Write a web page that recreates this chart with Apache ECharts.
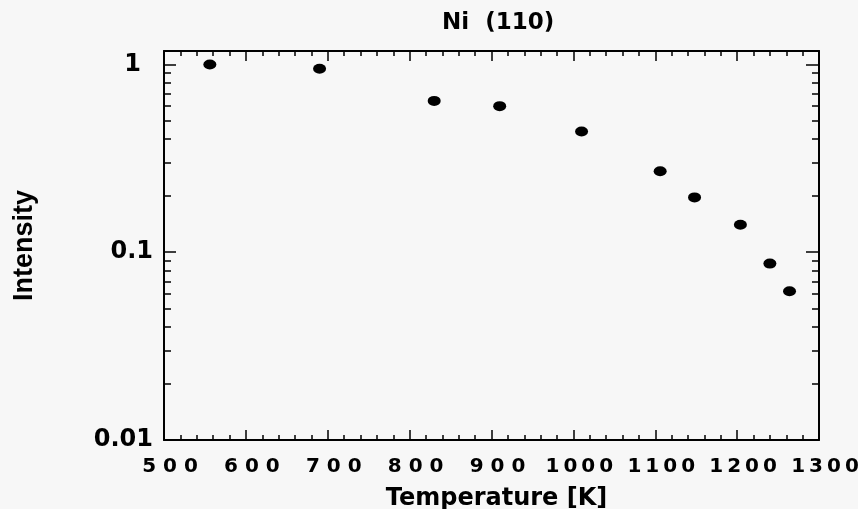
<!DOCTYPE html>
<html>
<head>
<meta charset="utf-8">
<script src="https://cdn.jsdelivr.net/npm/echarts@6/dist/echarts.min.js"></script>
<style>
html,body{margin:0;padding:0;background:#f7f7f7;}
#c{width:858px;height:509px;}
</style>
</head>
<body>
<div id="c"></div>
<script>
// ---- data ----
const temperatures = [556, 690, 830, 910, 1010, 1106, 1148, 1204, 1240, 1264];
const intensities  = [1.0, 0.95, 0.64, 0.60, 0.44, 0.27, 0.196, 0.140, 0.087, 0.062];
const xTicks = [500, 600, 700, 800, 900, 1000, 1100, 1200, 1300];
const yMajorTicks = [0.01, 0.1, 1];
const yTickLabels = ['0.01', '0.1', '1'];
const yMinorTicks = [0.02,0.03,0.04,0.05,0.06,0.07,0.08,0.09,0.2,0.3,0.4,0.5,0.6,0.7,0.8,0.9];
const titleText = 'Ni  (110)';
const xName = 'Temperature [K]';
const yName = 'Intensity';

const FONT = 'DejaVu Sans';
const fmtX = v => {
  const s = String(v);
  return s.length === 3 ? s.split('').join(' ') : s.split('').join('\u2009');
};
const fmtY = v => {
  for (let i = 0; i < yMajorTicks.length; i++) {
    if (Math.abs(Math.log10(v) - Math.log10(yMajorTicks[i])) < 1e-6) {
      const t = yTickLabels[i];
      return t.length === 1 ? t + '\u2002' : t;
    }
  }
  return '';
};

const lineStyle = {color: '#000', width: 2};
const xBase = (pos, labels) => ({
  type: 'value', gridIndex: 0, position: pos,
  min: xTicks[0], max: xTicks[xTicks.length - 1], interval: 100,
  axisLine: {show: true, onZero: false, lineStyle},
  axisTick: {show: true, inside: true, length: 10, lineStyle: {color: '#000', width: 1.5}},
  minorTick: {show: true, splitNumber: 5, length: 5, lineStyle: {color: '#000', width: 1.5}},
  splitLine: {show: false},
  axisLabel: labels ? {
    show: true, formatter: fmtX, margin: 17, padding: [0, 0, 0, 12],
    fontFamily: FONT, fontWeight: 'bold', fontSize: 20, color: '#000'
  } : {show: false}
});
const yBase = (pos, ticks, len, labels, line) => ({
  type: 'log', logBase: 10, gridIndex: 0, position: pos,
  min: 0.01, max: 1.18,
  axisLine: {show: line, onZero: false, lineStyle},
  axisTick: {show: true, inside: true, length: len, customValues: ticks, lineStyle: {color: '#000', width: 1.5}},
  minorTick: {show: false},
  splitLine: {show: false},
  axisLabel: labels ? {
    show: true, customValues: ticks, formatter: fmtY, margin: 11, padding: [0, 0, 4, 0],
    fontFamily: FONT, fontWeight: 'bold', fontSize: 24, color: '#000'
  } : {show: false}
});

const chart = echarts.init(document.getElementById('c'), null, {renderer: 'canvas'});
chart.setOption({
  backgroundColor: '#f7f7f7',
  animation: false,
  title: {
    text: titleText, left: 437, top: 7,
    textStyle: {fontFamily: FONT, fontWeight: 'bold', fontSize: 23, color: '#000'}
  },
  grid: {left: 164, top: 51, width: 655, height: 389, containLabel: false, outerBoundsMode: 'none'},
  xAxis: [
    Object.assign(xBase('bottom', true), {
      name: xName, nameLocation: 'middle', nameGap: 47,
      nameTextStyle: {fontFamily: FONT, fontWeight: 'bold', fontSize: 24, color: '#000', padding: [0, 0, 0, 10]}
    }),
    xBase('top', false)
  ],
  yAxis: [
    Object.assign(yBase('left', yMajorTicks, 12, true, true), {
      name: yName, nameLocation: 'middle', nameGap: 126,
      nameTextStyle: {fontFamily: 'Liberation Sans', fontWeight: 'bold', fontSize: 27, color: '#000'}
    }),
    yBase('left', yMinorTicks, 7, false, false),
    yBase('right', yMajorTicks, 13, false, true),
    yBase('right', yMinorTicks, 7, false, false)
  ],
  series: [{
    type: 'scatter', xAxisIndex: 0, yAxisIndex: 0,
    symbol: 'circle', symbolSize: [13, 10],
    itemStyle: {color: '#000', opacity: 1},
    data: temperatures.map((t, i) => [t, intensities[i]])
  }]
});
</script>
</body>
</html>
